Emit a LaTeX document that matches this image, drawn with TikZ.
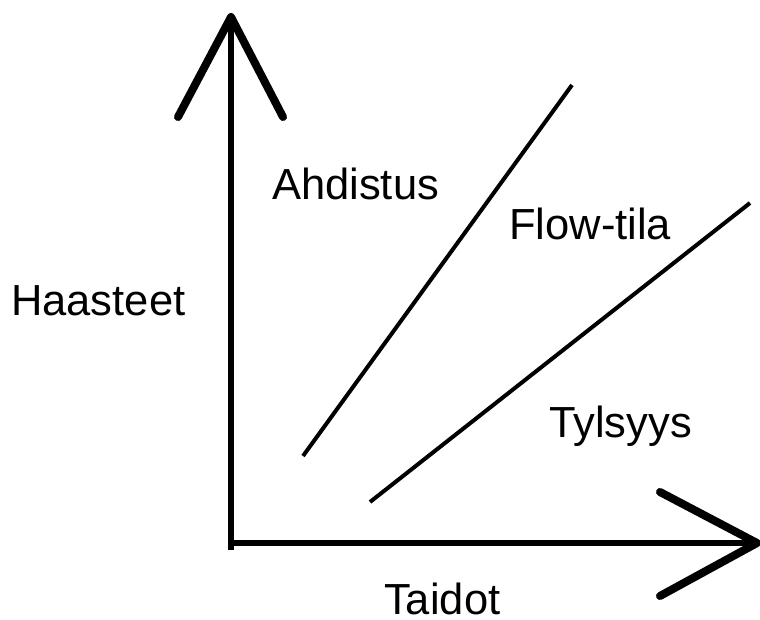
\documentclass[tikz,border=0pt]{standalone}
\usepackage{fontspec}
\setmainfont{Liberation Sans}
\usepackage{tikz}
\usetikzlibrary{positioning, calc}

\begin{document}
\begin{tikzpicture}[
      x=1pt, y=-1pt,
      label/.style={anchor=base west, inner sep=0pt, font=\fontsize{43.5}{50}\selectfont},
      axis/.style={line width=5.5pt},
      head/.style={line width=8pt, line cap=round, line join=round},
      zone/.style={line width=4pt}
    ]
      \useasboundingbox (0,0) rectangle (760,620);

      % axes
      \coordinate (origin) at (231,543);
      \coordinate (ytop) at (231,17);
      \coordinate (xend) at (757,543);
      \coordinate (ybot) at (231,550);
      \draw[axis] (ybot) -- (ytop);
      \draw[axis] (origin) -- (xend);
      \coordinate (yl) at (178,117);
      \coordinate (yr) at (283,117);
      \draw[head] (yl) -- (ytop) -- (yr);
      \coordinate (xu) at (660,492);
      \coordinate (xd) at (660,596);
      \draw[head] (xu) -- (xend) -- (xd);

      % zone borders
      \coordinate (a1) at (303,456);
      \coordinate (a2) at (572,85);
      \coordinate (b1) at (370,502);
      \coordinate (b2) at (750,203);
      \draw[zone] (a1) -- (a2);
      \draw[zone] (b1) -- (b2);

      % labels
      \node[label] (haasteet) at (11,315) {Haasteet};
      \node[label] (ahdistus) at (272,200) {Ahdistus};
      \node[label] (flow) at (509,240) {Flow-tila};
      \node[label] (tylsyys) at (549,437) {Tylsyys};
      \node[label] (taidot) at (384,614) {Taidot};
    \end{tikzpicture}
\end{document}
